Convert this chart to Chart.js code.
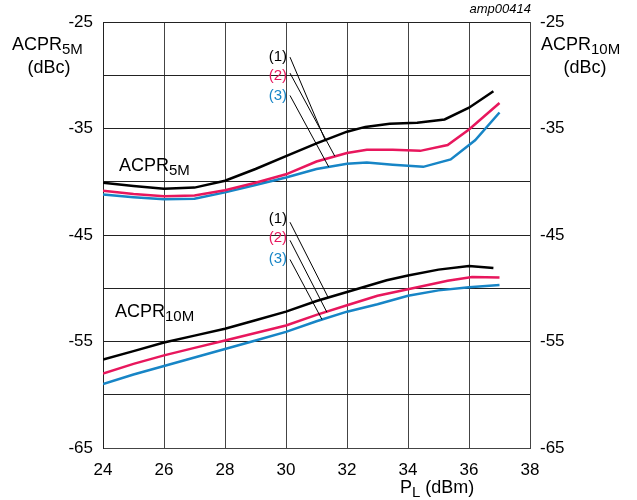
<!DOCTYPE html>
<html lang="en">
<head>
<meta charset="UTF-8">
<title>ACPR vs PL</title>
<script src="https://cdn.jsdelivr.net/npm/chart.js"></script>
<style>
  html, body { margin: 0; padding: 0; background: #fff; }
  #wrap { width: 637px; height: 500px; position: relative; }
</style>
</head>
<body>
<div id="wrap"><canvas id="acprChart"></canvas></div>
<script>
// tick values
const xTickValues = [24, 26, 28, 30, 32, 34, 36, 38];
const yTickLabels = [-25, -35, -45, -55, -65];

// ACPR 5M curves (1) (2) (3)
const acpr5mX1 = [24, 25, 26, 27, 28, 29, 30, 31, 32, 32.6, 33.4, 34.3, 35.2, 36, 36.8];
const acpr5mY1 = [-40.1, -40.4, -40.65, -40.55, -39.9, -38.8, -37.6, -36.4, -35.3, -34.85, -34.55, -34.45, -34.15, -33.05, -31.5];
const acpr5mX2 = [24, 25, 26, 27, 28, 29, 30, 31, 32, 32.65, 33.5, 34.4, 35.3, 36, 37];
const acpr5mY2 = [-40.85, -41.15, -41.35, -41.3, -40.8, -40.1, -39.3, -38.1, -37.3, -37.0, -37.0, -37.1, -36.55, -35.1, -32.6];
const acpr5mX3 = [24, 25, 26, 27, 28, 29, 30, 31, 32, 32.65, 33.5, 34.5, 35.4, 36.2, 37];
const acpr5mY3 = [-41.2, -41.45, -41.65, -41.6, -41.0, -40.3, -39.6, -38.8, -38.3, -38.2, -38.4, -38.6, -37.9, -36.1, -33.5];

// ACPR 10M curves (1) (2) (3)
const acpr10mX1 = [24, 25, 26, 27, 28, 29, 30, 31, 32, 33.3, 34, 35, 36, 36.8];
const acpr10mY1 = [-56.7, -55.9, -55.1, -54.45, -53.8, -53.0, -52.2, -51.2, -50.35, -49.25, -48.8, -48.25, -47.9, -48.1];
const acpr10mX2 = [24, 25, 26, 27, 28, 29, 30, 31, 32, 33, 34, 35.3, 36.1, 37];
const acpr10mY2 = [-58.0, -57.1, -56.3, -55.6, -54.9, -54.2, -53.5, -52.5, -51.6, -50.7, -50.1, -49.3, -48.95, -49.0];
const acpr10mX3 = [24, 25, 26, 27, 28, 29, 30, 31, 32, 33, 34, 35, 36, 37];
const acpr10mY3 = [-59.0, -58.1, -57.3, -56.5, -55.7, -54.9, -54.1, -53.1, -52.2, -51.5, -50.7, -50.2, -49.9, -49.7];

const BLACK = '#000000';
const RED = '#e8175d';
const BLUE = '#1785c6';
const FONT = '"Liberation Sans", Arial, sans-serif';

function pts(xs, ys) {
    return xs.map((x, i) => ({ x: x, y: ys[i] }));
}

function series(xs, ys, color) {
    return {
        data: pts(xs, ys),
        borderColor: color,
        borderWidth: 2.5,
        pointRadius: 0,
        fill: false,
        tension: 0,
        yAxisID: 'y'
    };
}

// text with subscript, returns end x
function subText(ctx, x, y, main, sub, size, subSize, color) {
    ctx.fillStyle = color;
    ctx.textAlign = 'left';
    ctx.textBaseline = 'alphabetic';
    ctx.font = size + 'px ' + FONT;
    const w1 = ctx.measureText(main).width;
    ctx.fillText(main, x, y);
    ctx.font = subSize + 'px ' + FONT;
    const w2 = ctx.measureText(sub).width;
    ctx.fillText(sub, x + w1, y + 4);
    return x + w1 + w2;
}

const labelsPlugin = {
    id: 'labelsPlugin',
    afterDraw(chart) {
        const ctx = chart.ctx;
        const xs = chart.scales.x, ys = chart.scales.y;
        const px = v => xs.getPixelForValue(v);
        const py = v => ys.getPixelForValue(v);
        ctx.save();

        // axis titles
        subText(ctx, 12, 50, 'ACPR', '5M', 18, 15, BLACK);
        ctx.font = '18px ' + FONT;
        ctx.textAlign = 'center';
        ctx.fillStyle = BLACK;
        ctx.fillText('(dBc)', 49, 73);
        subText(ctx, 541, 50, 'ACPR', '10M', 18, 15, BLACK);
        ctx.font = '18px ' + FONT;
        ctx.textAlign = 'center';
        ctx.fillText('(dBc)', 585, 73);
        const endP = subText(ctx, 400, 493, 'P', 'L', 18, 15, BLACK);
        ctx.font = '18px ' + FONT;
        ctx.textAlign = 'left';
        ctx.fillText(' (dBm)', endP, 493);

        ctx.font = 'italic 13px ' + FONT;
        ctx.textAlign = 'right';
        ctx.fillText('amp00414', 531, 13);

        // curve group labels
        subText(ctx, 119, 171, 'ACPR', '5M', 18, 15, BLACK);
        subText(ctx, 115, 317, 'ACPR', '10M', 18, 15, BLACK);

        // leader labels and lines (data units)
        const groups = [
            { labels: [-28.3, -30.1, -31.9], starts: [-28.3, -29.8, -31.9],
              ends: [[31.3, -36.2], [31.6, -37.6], [31.4, -38.6]] },
            { labels: [-43.5, -45.3, -47.2], starts: [-43.8, -45.5, -47.3],
              ends: [[31.38, -50.85], [31.34, -52.25], [31.18, -52.93]] }
        ];
        const names = ['(1)', '(2)', '(3)'];
        const cols = [BLACK, RED, BLUE];
        groups.forEach(g => {
            for (let i = 0; i < 3; i++) {
                ctx.font = '15px ' + FONT;
                ctx.textAlign = 'right';
                ctx.textBaseline = 'middle';
                ctx.fillStyle = cols[i];
                ctx.fillText(names[i], 287, py(g.labels[i]));
                ctx.beginPath();
                ctx.strokeStyle = BLACK;
                ctx.lineWidth = 1;
                ctx.moveTo(290, py(g.starts[i]));
                ctx.lineTo(px(g.ends[i][0]), py(g.ends[i][1]));
                ctx.stroke();
            }
        });
        ctx.restore();
    }
};

const tickFont = { family: FONT, size: 17 };
const yLabel = v => (yTickLabels.includes(v) ? String(v) : '');

new Chart(document.getElementById('acprChart'), {
    type: 'line',
    data: {
        datasets: [
            series(acpr5mX1, acpr5mY1, BLACK),
            series(acpr5mX2, acpr5mY2, RED),
            series(acpr5mX3, acpr5mY3, BLUE),
            series(acpr10mX1, acpr10mY1, BLACK),
            series(acpr10mX2, acpr10mY2, RED),
            series(acpr10mX3, acpr10mY3, BLUE)
        ]
    },
    options: {
        responsive: true,
        maintainAspectRatio: false,
        animation: false,
        layout: { padding: { top: 22, left: 0, right: 0, bottom: 0 } },
        plugins: { legend: { display: false }, tooltip: { enabled: false } },
        scales: {
            x: {
                type: 'linear',
                min: 24, max: 38,
                afterBuildTicks: s => { s.ticks = xTickValues.map(v => ({ value: v })); },
                ticks: { font: tickFont, color: BLACK, padding: 12, maxRotation: 0 },
                grid: { color: '#444', lineWidth: 1, drawTicks: false },
                border: { color: '#444' },
                afterFit: s => { s.height = 52; }
            },
            y: {
                position: 'left',
                min: -65, max: -25,
                ticks: { stepSize: 5, callback: yLabel, font: tickFont, color: BLACK, padding: 10 },
                grid: { color: '#222', lineWidth: 1, drawTicks: false },
                border: { color: '#222' },
                afterFit: s => { s.width = 103; }
            },
            y2: {
                position: 'right',
                min: -65, max: -25,
                ticks: { stepSize: 5, callback: yLabel, font: tickFont, color: BLACK, padding: 10 },
                grid: { display: false, drawTicks: false },
                border: { color: '#444' },
                afterFit: s => { s.width = 107; }
            }
        }
    },
    plugins: [labelsPlugin]
});
</script>
</body>
</html>
